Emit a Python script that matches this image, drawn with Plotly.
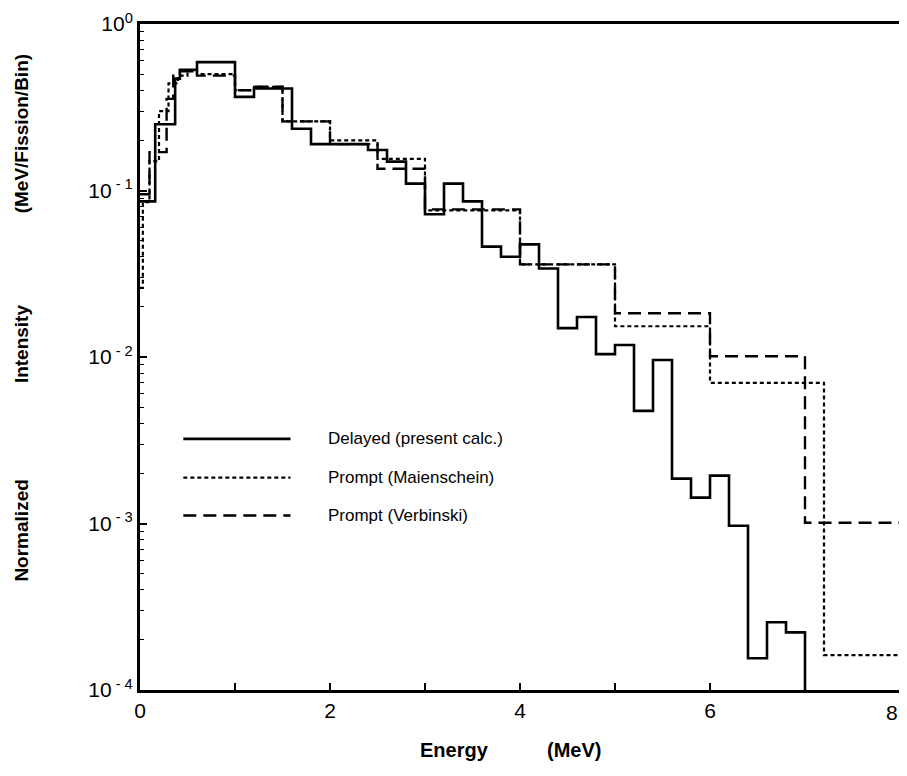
import plotly.graph_objects as go

# ---- data ----
delayed_edges = [0, 0.16, 0.37, 0.42, 0.6, 1.0, 1.2, 1.6, 1.8, 2.4, 2.6, 2.8, 3.0, 3.2, 3.4,
                 3.6, 3.8, 4.0, 4.2, 4.4, 4.6, 4.8, 5.0, 5.2, 5.4, 5.6, 5.8, 6.0, 6.2, 6.4,
                 6.6, 6.8, 7.0]
delayed_vals = [0.086, 0.25, 0.47, 0.53, 0.59, 0.365, 0.41, 0.235, 0.19, 0.175, 0.149, 0.11,
                0.072, 0.11, 0.086, 0.046, 0.040, 0.0475, 0.034, 0.0149, 0.0174, 0.0104,
                0.0118, 0.00475, 0.0096, 0.00186, 0.00143, 0.00194, 0.00097, 0.000155,
                0.000255, 0.000222]

maien_edges = [0, 0.03, 0.1, 0.2, 0.3, 0.4, 0.5, 0.6, 1.0, 1.2, 1.5, 2.0, 2.5, 3.0, 4.0,
               5.0, 6.0, 7.2, 8.0]
maien_vals = [0.026, 0.085, 0.15, 0.30, 0.44, 0.49, 0.52, 0.50, 0.40, 0.42, 0.26, 0.20,
              0.155, 0.076, 0.036, 0.0153, 0.0070, 0.000162]

verb_edges = [0, 0.1, 0.28, 0.35, 0.42, 0.6, 1.0, 1.2, 1.5, 2.0, 2.5, 3.0, 4.0, 5.0, 6.0,
              7.0, 8.0]
verb_vals = [0.095, 0.17, 0.355, 0.50, 0.52, 0.49, 0.40, 0.42, 0.26, 0.19, 0.135, 0.077,
             0.036, 0.0183, 0.0101, 0.00101]

legend_labels = ["Delayed (present calc.)", "Prompt (Maienschein)", "Prompt (Verbinski)"]
x_tickvals = [0, 1, 2, 3, 4, 5, 6, 7, 8]
x_ticktext = ["0", "", "2", "", "4", "", "6", "", ""]
x_last_label = "8"   # drawn just inside the right frame, as in the reference
y_tickvals = [1, 0.1, 0.01, 0.001, 0.0001]
y_ticktext = ["10<sup>0</sup>", "10<sup> - 1</sup>", "10<sup> - 2</sup>",
              "10<sup> - 3</sup>", "10<sup> - 4</sup>"]
y_title_parts = ["(MeV/Fission/Bin)", "Intensity", "Normalized"]
x_title_parts = ["Energy", "(MeV)"]

FONT = "Liberation Sans, Arial, sans-serif"

# minor tick positions on the log axis (2..9 in every decade)
minor_vals = [m * 10.0 ** d for d in range(-4, 0) for m in range(2, 10)]


def step_xy(edges, vals, drop=None):
    x = list(edges)
    y = list(vals) + [vals[-1]]
    if drop is not None:
        x = x + [edges[-1]]
        y = y + [drop]
    return x, y


styles = [
    dict(color="black", width=2.6, dash="solid"),
    dict(color="black", width=2.2, dash="4px,3px"),
    dict(color="black", width=2.4, dash="13px,7px"),
]

fig = go.Figure()
series = [
    step_xy(delayed_edges, delayed_vals, drop=1e-6),
    step_xy(maien_edges, maien_vals),
    step_xy(verb_edges, verb_vals),
]
for (x, y), st, name in zip(series, styles, legend_labels):
    fig.add_trace(go.Scatter(x=x, y=y, mode="lines", line_shape="hv",
                             line=st, name=name, showlegend=False))

# manual legend (line samples + labels)
rows_y = [0.377, 0.319, 0.262]
for st, label, yy in zip(styles, legend_labels, rows_y):
    fig.add_shape(type="line", xref="paper", yref="paper", x0=0.057, x1=0.198,
                  y0=yy, y1=yy, line=st)
    fig.add_annotation(xref="paper", yref="paper", x=0.2444, y=yy, text=label,
                       showarrow=False, xanchor="left", yanchor="middle",
                       font=dict(family=FONT, size=17, color="black"))

# axis titles (split in spaced words as in the reference)
for txt, yy in zip(y_title_parts, [0.835, 0.52, 0.24]):
    fig.add_annotation(xref="paper", yref="paper", x=-0.156, y=yy, text="<b>%s</b>" % txt,
                       textangle=-90, showarrow=False, xanchor="center", yanchor="middle",
                       font=dict(family=FONT, size=19, color="black"))
for txt, xx in zip(x_title_parts, [0.414, 0.571]):
    fig.add_annotation(xref="paper", yref="paper", x=xx, y=-0.0898, text="<b>%s</b>" % txt,
                       showarrow=False, xanchor="center", yanchor="middle",
                       font=dict(family=FONT, size=20, color="black"))
fig.add_annotation(xref="paper", yref="paper", x=1.0, y=-0.0345, text=x_last_label,
                   showarrow=False, xanchor="right", yanchor="middle",
                   font=dict(family=FONT, size=21, color="black"))

fig.update_layout(
    width=897, height=760,
    margin=dict(l=132, r=2, t=14, b=78),
    paper_bgcolor="white", plot_bgcolor="white",
    font=dict(family=FONT, color="black"),
)
fig.update_xaxes(
    range=[0, 8], tickvals=x_tickvals, ticktext=x_ticktext,
    ticks="inside", ticklen=7, tickwidth=1.5, tickcolor="black",
    showline=True, linecolor="black", linewidth=3, mirror=True,
    showgrid=False, zeroline=False, ticklabeloverflow="allow",
    tickfont=dict(family=FONT, size=21),
)
fig.update_yaxes(
    type="log", range=[-4, 0], tickvals=y_tickvals, ticktext=y_ticktext,
    ticks="inside", ticklen=7, tickwidth=1.5, tickcolor="black",
    minor=dict(tickvals=minor_vals, ticks="inside", ticklen=4, tickwidth=1.2,
               tickcolor="black", showgrid=False),
    showline=True, linecolor="black", linewidth=3, mirror=True,
    showgrid=False, zeroline=False, ticklabeloverflow="allow",
    tickfont=dict(family=FONT, size=21),
)

fig.write_html("out.html")
